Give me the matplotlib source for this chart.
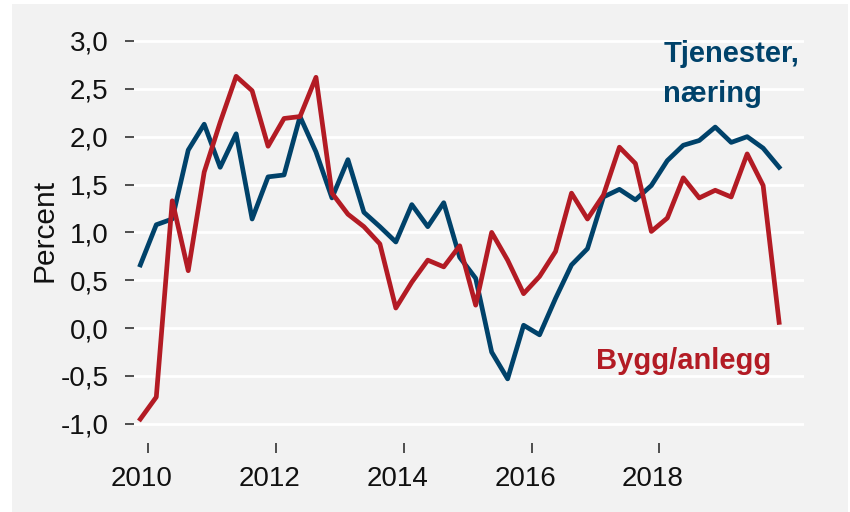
import numpy as np
import pandas as pd
import matplotlib
matplotlib.use("Agg")
import matplotlib.pyplot as plt
import matplotlib.transforms as mtransforms
from matplotlib.patches import Rectangle

plt.rcParams['font.family'] = ['Liberation Sans', 'DejaVu Sans']

# quarterly data, 2009Q4 - 2019Q4
quarters = pd.period_range("2009Q4", "2019Q4", freq="Q")

tjenester = [0.66, 1.08, 1.14, 1.86, 2.13, 1.68, 2.03, 1.14, 1.58, 1.60,
             2.21, 1.84, 1.36, 1.76, 1.21, 1.06, 0.90, 1.29, 1.06, 1.31,
             0.74, 0.52, -0.25, -0.53, 0.03, -0.07, 0.31, 0.66, 0.83, 1.37,
             1.45, 1.34, 1.49, 1.75, 1.91, 1.96, 2.10, 1.94, 2.00, 1.88,
             1.68]
bygg = [-0.95, -0.72, 1.33, 0.60, 1.63, 2.15, 2.63, 2.48, 1.90, 2.19,
        2.21, 2.62, 1.41, 1.19, 1.06, 0.88, 0.21, 0.48, 0.71, 0.64,
        0.86, 0.24, 1.00, 0.71, 0.36, 0.54, 0.80, 1.41, 1.14, 1.39,
        1.89, 1.72, 1.01, 1.15, 1.57, 1.36, 1.44, 1.37, 1.82, 1.49,
        0.06]

yticks = [-1.0, -0.5, 0.0, 0.5, 1.0, 1.5, 2.0, 2.5, 3.0]
xticks = [2010, 2012, 2014, 2016, 2018]

blue = '#00426a'
red = '#b31b24'
bg = '#f2f2f2'

x = np.array([q.year + (q.quarter - 0.5) / 4 for q in quarters])

fig = plt.figure(figsize=(8.5, 5.12), dpi=100)
fig.patches.append(Rectangle((12 / 850, 0), 836 / 850, 508 / 512,
                             transform=fig.transFigure, facecolor=bg,
                             edgecolor='none', zorder=-10))
ax = fig.add_axes([134 / 850, 69 / 512, 669.7 / 850, 426 / 512])
ax.set_facecolor(bg)

for v in yticks:
    ax.axhline(v, color='white', lw=2, zorder=1)

ax.plot(x, tjenester, color=blue, lw=3.4, zorder=3)
ax.plot(x, bygg, color=red, lw=3.4, zorder=3)

ax.set_xlim(2009.776, 2020.26)
ax.set_ylim(-1.2, 3.25)

for s in ax.spines.values():
    s.set_visible(False)

ax.set_yticks(yticks)
ax.set_yticklabels([f"{v:.1f}".replace('.', ',') for v in yticks])
ax.set_xticks(xticks)
ax.set_xticklabels([str(v) for v in xticks])
ax.tick_params(axis='y', length=6.5, width=1.1, color='#222222',
               pad=12, labelsize=20, labelcolor='#111111')
ax.tick_params(axis='x', length=7, width=1.1, color='#222222',
               pad=9.5, labelsize=20, labelcolor='#111111')

shift = mtransforms.ScaledTranslation(-6.5 / 100, 0, fig.dpi_scale_trans)
for lab in ax.get_xticklabels():
    lab.set_transform(lab.get_transform() + shift)

ax.set_ylabel("Percent", fontsize=21.5, color='#111111')
ax.yaxis.set_label_coords(-0.112, 0.5)

# baseline of the last line ("næring")
ax.text(2018.06, 2.364, "Tjenester,\nnæring", color=blue, fontsize=21,
        fontweight='bold', ha='left', va='baseline', linespacing=1.54)
ax.text(2017.01, -0.431, "Bygg/anlegg", color=red, fontsize=21,
        fontweight='bold', ha='left', va='baseline')

fig.savefig("out.png", dpi=100, facecolor='white')
